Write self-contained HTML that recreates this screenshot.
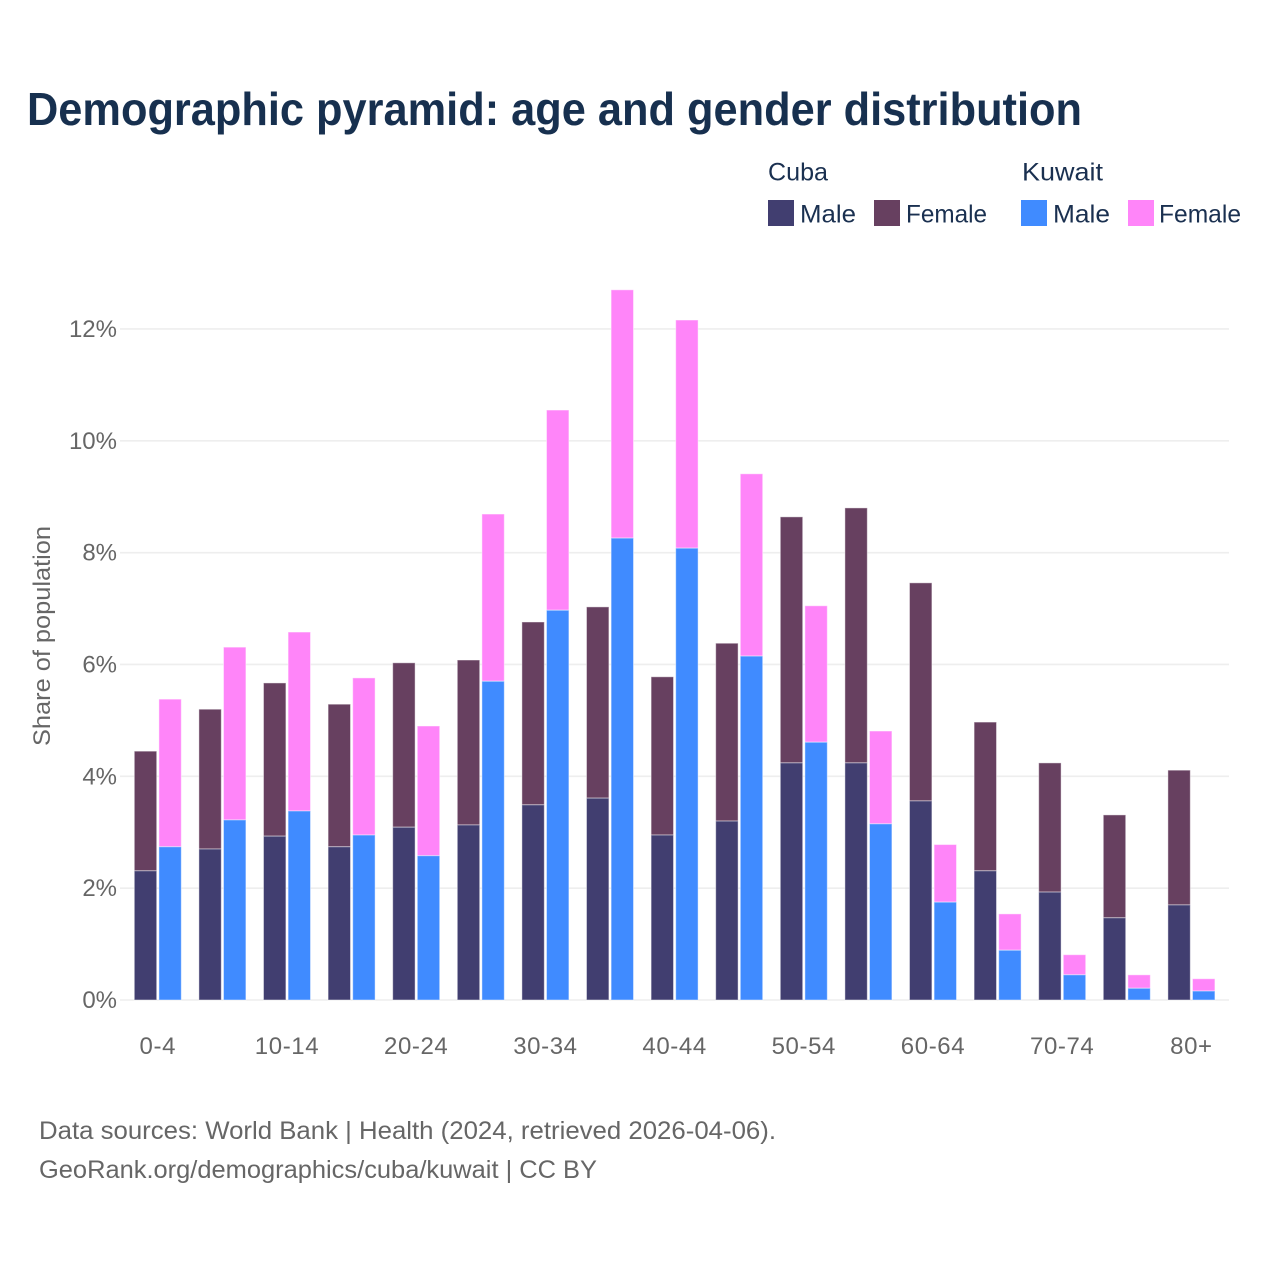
<!DOCTYPE html>
<html lang="en">
<head>
<meta charset="utf-8">
<title>Demographic pyramid: age and gender distribution</title>
<style>
  html, body { margin: 0; padding: 0; background: #fff; }
  svg { display: block; font-family: "Liberation Sans", sans-serif; }
  .axis-text { font-size: 24px; fill: #666; }
  .legend-text { font-size: 25px; fill: #1a3050; }
  .note-text { font-size: 25px; fill: #666; }
</style>
</head>
<body>
<svg id="chart" xmlns="http://www.w3.org/2000/svg" width="1280" height="1280" viewBox="0 0 1280 1280">
  <rect x="0" y="0" width="1280" height="1280" fill="#ffffff"/>
  <text x="27" y="125" font-size="46" font-weight="700" fill="#17304f" textLength="1055" lengthAdjust="spacingAndGlyphs">Demographic pyramid: age and gender distribution</text>

  <g>
    <text class="legend-text" x="768" y="180.5" textLength="60" lengthAdjust="spacingAndGlyphs">Cuba</text>
    <text class="legend-text" x="1022" y="180.5" textLength="81" lengthAdjust="spacingAndGlyphs">Kuwait</text>
    <rect x="768" y="200" width="26" height="26" fill="#413e70"/>
    <text class="legend-text" x="800" y="222.5" textLength="56" lengthAdjust="spacingAndGlyphs">Male</text>
    <rect x="874" y="200" width="26" height="26" fill="#674060"/>
    <text class="legend-text" x="906" y="222.5" textLength="81" lengthAdjust="spacingAndGlyphs">Female</text>
    <rect x="1021" y="200" width="26" height="26" fill="#408bff"/>
    <text class="legend-text" x="1053" y="222.5" textLength="57" lengthAdjust="spacingAndGlyphs">Male</text>
    <rect x="1128" y="200" width="26" height="26" fill="#ff85f9"/>
    <text class="legend-text" x="1159" y="222.5" textLength="82" lengthAdjust="spacingAndGlyphs">Female</text>
  </g>

  <text class="axis-text" transform="translate(50,746) rotate(-90)" x="0" y="0" textLength="220" lengthAdjust="spacingAndGlyphs">Share of population</text>

  <g id="grid"></g>
  <g id="yticks"></g>
  <g id="bars"></g>
  <g id="xticks"></g>

  <text class="note-text" x="39" y="1139" textLength="737" lengthAdjust="spacingAndGlyphs">Data sources: World Bank | Health (2024, retrieved 2026-04-06).</text>
  <text class="note-text" x="39" y="1178" textLength="558" lengthAdjust="spacingAndGlyphs">GeoRank.org/demographics/cuba/kuwait | CC BY</text>
</svg>

<script>
const ageGroups = ["0-4","5-9","10-14","15-19","20-24","25-29","30-34","35-39","40-44","45-49","50-54","55-59","60-64","65-69","70-74","75-79","80+"];
const xTickLabels = ["0-4","10-14","20-24","30-34","40-44","50-54","60-64","70-74","80+"];
const yTickValues = [0,2,4,6,8,10,12];
const cubaMale = [2.31,2.70,2.93,2.74,3.09,3.13,3.49,3.61,2.95,3.20,4.24,4.24,3.56,2.31,1.93,1.47,1.70];
const cubaFemale = [2.14,2.50,2.74,2.55,2.94,2.95,3.27,3.42,2.83,3.18,4.40,4.56,3.90,2.66,2.31,1.84,2.41];
const kuwaitMale = [2.74,3.22,3.38,2.95,2.58,5.70,6.97,8.26,8.08,6.15,4.61,3.15,1.75,0.89,0.45,0.21,0.16];
const kuwaitFemale = [2.64,3.09,3.20,2.81,2.32,2.99,3.58,4.44,4.08,3.26,2.44,1.66,1.03,0.65,0.36,0.24,0.22];

const SVG_NS = "http://www.w3.org/2000/svg";
function yScale(v) { return 1000 - v * 55.92; }
function bandStart(i) { return 125.5 + i * 64.6; }
function bandCenter(i) { return bandStart(i) + 32.3; }

const gridLayer = document.getElementById("grid");
const yTickLayer = document.getElementById("yticks");
yTickValues.forEach(function (v) {
  const line = document.createElementNS(SVG_NS, "line");
  
  
  line.setAttribute("x1", 120);
  line.setAttribute("x2", 1229);
  line.setAttribute("y1", yScale(v));
  line.setAttribute("y2", yScale(v));
  line.setAttribute("stroke", "#eeeeee");
  line.setAttribute("stroke-width", "1.6");
  gridLayer.appendChild(line);

  const label = document.createElementNS(SVG_NS, "text");
  
  
  label.setAttribute("class", "axis-text");
  label.setAttribute("x", 117);
  label.setAttribute("y", yScale(v) + 8);
  label.setAttribute("text-anchor", "end");
  label.textContent = v + "%";
  yTickLayer.appendChild(label);
});

function drawSegment(i, offset, bottom, top, color) {
  const rect = document.createElementNS(SVG_NS, "rect");
  
  
  rect.setAttribute("x", bandStart(i) + offset);
  rect.setAttribute("y", yScale(top));
  rect.setAttribute("width", 22.4);
  rect.setAttribute("height", yScale(bottom) - yScale(top));
  rect.setAttribute("fill", color);
  rect.setAttribute("stroke", "#ffffff");
  rect.setAttribute("stroke-opacity", "0.45");
  rect.setAttribute("stroke-width", "1");
  document.getElementById("bars").appendChild(rect);
}

ageGroups.forEach(function (age, i) {
  drawSegment(i, 8.8, cubaMale[i], cubaMale[i] + cubaFemale[i], "#674060");
  drawSegment(i, 8.8, 0, cubaMale[i], "#413e70");
  drawSegment(i, 33.4, kuwaitMale[i], kuwaitMale[i] + kuwaitFemale[i], "#ff85f9");
  drawSegment(i, 33.4, 0, kuwaitMale[i], "#408bff");
});

const xTickLayer = document.getElementById("xticks");
xTickLabels.forEach(function (name) {
  const idx = ageGroups.indexOf(name);
  const label = document.createElementNS(SVG_NS, "text");
  
  
  label.setAttribute("class", "axis-text");
  label.setAttribute("x", bandCenter(idx));
  label.setAttribute("y", 1054);
  label.setAttribute("text-anchor", "middle");
  label.setAttribute("letter-spacing", "0.6");
  label.textContent = name;
  xTickLayer.appendChild(label);
});
</script>
</body>
</html>
